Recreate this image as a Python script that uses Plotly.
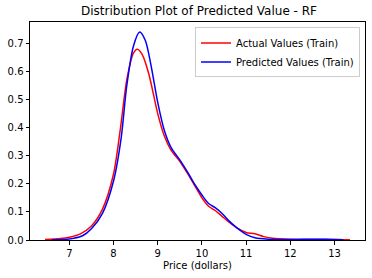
import plotly.graph_objects as go

actual_x = [6.45, 6.8, 7.0, 7.25, 7.5, 7.75, 8.0, 8.15, 8.3, 8.45, 8.54, 8.65, 8.8, 9.0, 9.15, 9.3, 9.5, 9.7, 9.85, 10.0, 10.15, 10.3, 10.45, 10.6, 10.8, 11.0, 11.2, 11.4, 11.6, 12.0, 12.5, 13.0, 13.35]
actual_y = [0.002, 0.005, 0.01, 0.022, 0.05, 0.11, 0.235, 0.39, 0.57, 0.665, 0.679, 0.66, 0.59, 0.45, 0.37, 0.32, 0.28, 0.23, 0.19, 0.15, 0.12, 0.105, 0.085, 0.065, 0.042, 0.027, 0.022, 0.012, 0.006, 0.003, 0.002, 0.002, 0.001]

pred_x = [6.6, 6.9, 7.1, 7.3, 7.5, 7.75, 8.0, 8.17, 8.3, 8.45, 8.59, 8.72, 8.85, 9.0, 9.15, 9.3, 9.5, 9.7, 9.85, 10.0, 10.15, 10.3, 10.45, 10.6, 10.8, 11.0, 11.2, 11.5, 12.0, 12.5, 12.8, 13.2]
pred_y = [0.001, 0.002, 0.006, 0.015, 0.04, 0.095, 0.21, 0.36, 0.55, 0.69, 0.74, 0.71, 0.62, 0.49, 0.39, 0.33, 0.285, 0.235, 0.195, 0.16, 0.13, 0.115, 0.095, 0.07, 0.042, 0.02, 0.008, 0.003, 0.002, 0.003, 0.003, 0.001]

x_ticks = [7, 8, 9, 10, 11, 12, 13]
y_ticks = [0.0, 0.1, 0.2, 0.3, 0.4, 0.5, 0.6, 0.7]

font = "DejaVu Sans"

fig = go.Figure()
fig.add_trace(go.Scatter(x=actual_x, y=actual_y, mode="lines", name="Actual Values (Train)",
                         line=dict(color="red", width=1.5, shape="spline", smoothing=0.8)))
fig.add_trace(go.Scatter(x=pred_x, y=pred_y, mode="lines", name="Predicted Values (Train)",
                         line=dict(color="blue", width=1.5, shape="spline", smoothing=0.8)))

axis_common = dict(showline=True, linecolor="black", linewidth=1, mirror=True,
                   ticks="outside", ticklen=3.5, tickcolor="black", showgrid=False,
                   zeroline=False, tickfont=dict(family=font, size=10, color="black"))

fig.update_layout(
    width=372, height=278,
    margin=dict(l=30, r=7, t=22, b=38),
    paper_bgcolor="white", plot_bgcolor="white",
    title=dict(text="Distribution Plot of Predicted Value - RF", x=0.535, xanchor="center",
               y=0.96, yanchor="middle", font=dict(family=font, size=12, color="black")),
    xaxis=dict(range=[6.11, 13.69], tickvals=x_ticks, ticktext=[str(v) for v in x_ticks],
               title=dict(text="Price (dollars)", font=dict(family=font, size=10, color="black"), standoff=4),
               **axis_common),
    yaxis=dict(range=[0, 0.776], tickvals=y_ticks, ticktext=[f"{v:.1f}" for v in y_ticks],
               **axis_common),
    legend=dict(x=0.985, xanchor="right", y=0.975, yanchor="top",
                bordercolor="#cccccc", borderwidth=1, bgcolor="rgba(255,255,255,0.8)",
                font=dict(family=font, size=10, color="black"), itemwidth=30,
                tracegroupgap=0),
    showlegend=True,
)

fig.write_html("out.html")
